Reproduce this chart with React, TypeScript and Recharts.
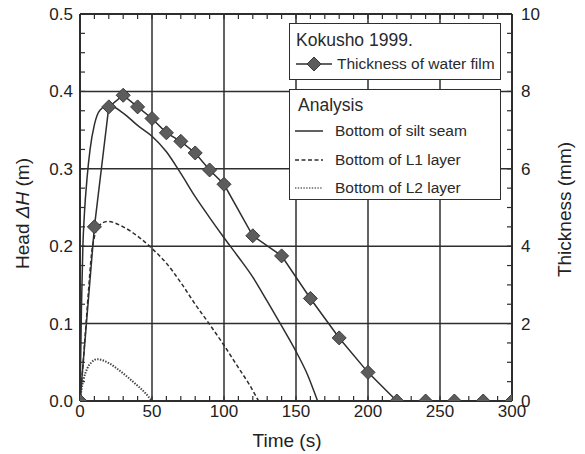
import React from 'react'
import { LineChart, Line, XAxis, YAxis, CartesianGrid, Legend } from 'recharts'

// ----- measured: water film thickness (mm), Kokusho 1999 -----
const filmTime = [0, 10, 20, 30, 40, 50, 60, 70, 80, 90, 100, 120, 140, 160, 180, 200, 220, 240, 260, 280, 300]
const filmThickness = [0, 4.5, 7.6, 7.9, 7.6, 7.3, 6.93, 6.71, 6.41, 5.97, 5.6, 4.27, 3.75, 2.65, 1.63, 0.74, 0, 0, 0, 0, 0]

// ----- analysis: head ΔH (m) -----
const siltTime = [0, 1, 2, 3, 5, 7, 10, 14, 20, 30, 40, 50, 60, 70, 80, 90, 100, 110, 120, 130, 140, 150, 158, 165]
const siltHead = [0, 0.12, 0.2, 0.24, 0.29, 0.325, 0.357, 0.376, 0.382, 0.372, 0.356, 0.342, 0.322, 0.294, 0.264, 0.237, 0.211, 0.186, 0.16, 0.129, 0.097, 0.064, 0.034, 0]

const l1Time = [0, 2, 4, 6, 8, 10, 13, 19, 30, 40, 50, 60, 70, 80, 90, 100, 110, 118, 124]
const l1Head = [0, 0.045, 0.095, 0.145, 0.19, 0.212, 0.226, 0.232, 0.225, 0.213, 0.197, 0.178, 0.153, 0.125, 0.099, 0.072, 0.043, 0.02, 0]

const l2Time = [0, 1, 2.5, 5, 8, 12, 20, 27, 33, 38, 45, 50]
const l2Head = [0, 0.014, 0.028, 0.042, 0.05, 0.054, 0.049, 0.04, 0.031, 0.023, 0.011, 0]

// ----- ticks -----
const xMajor = [0, 50, 100, 150, 200, 250, 300]
const leftMajor = [0, 0.1, 0.2, 0.3, 0.4, 0.5]
const xMinor = Array.from({ length: 31 }, (_, i) => i * 10)
const leftMinor = Array.from({ length: 21 }, (_, i) => +(i * 0.025).toFixed(3))
const rightMinor = Array.from({ length: 21 }, (_, i) => i * 0.5)

const filmName = 'Thickness of water film'
const analysisNames = ['Bottom of silt seam', 'Bottom of L1 layer', 'Bottom of L2 layer']

const filmData = filmTime.map((t, i) => ({ t, v: filmThickness[i] }))
const siltData = siltTime.map((t, i) => ({ t, v: siltHead[i] }))
const l1Data = l1Time.map((t, i) => ({ t, v: l1Head[i] }))
const l2Data = l2Time.map((t, i) => ({ t, v: l2Head[i] }))

const INK = '#2e2e2e'
const FONT = '"Liberation Sans", Arial, sans-serif'
const dashes = [undefined, '4 2.5', '1.4 1.4']

const Diamond = (props: any) => {
  const { cx, cy } = props
  if (cx == null || cy == null) return null
  const r = 7
  return (
    <polygon
      points={`${cx},${cy - r} ${cx + r},${cy} ${cx},${cy + r} ${cx - r},${cy}`}
      fill="#5c5c5c"
      stroke="#3a3a3a"
      strokeWidth={1}
    />
  )
}

const LegendBoxes = () => {
  const box: React.CSSProperties = {
    position: 'absolute', left: 0, border: `1.5px solid ${INK}`, background: '#fff',
    fontFamily: FONT, color: '#2a2a2a', boxSizing: 'border-box', width: 212,
  }
  const row = (h: number): React.CSSProperties => ({ height: h, display: 'flex', alignItems: 'center', fontSize: 15.5 })
  return (
    <div style={{ position: 'relative', width: 212, height: 180 }}>
      <div style={{ ...box, top: 0, height: 57, paddingTop: 4 }}>
        <div style={{ ...row(24), paddingLeft: 6, fontSize: 17.5 }}>Kokusho 1999.</div>
        <div style={row(24)}>
          <svg width={40} height={16} style={{ marginLeft: 4, marginRight: 3 }}>
            <line x1={2} y1={8} x2={38} y2={8} stroke={INK} strokeWidth={1.5} />
            <Diamond cx={20} cy={8} />
          </svg>
          {filmName}
        </div>
      </div>
      <div style={{ ...box, top: 66, height: 111, paddingTop: 3 }}>
        <div style={{ ...row(24), paddingLeft: 8, fontSize: 17.5 }}>Analysis</div>
        {analysisNames.map((n, i) => (
          <div key={n} style={row(28.5)}>
            <svg width={30} height={10} style={{ marginLeft: 4, marginRight: 11 }}>
              <line x1={1} y1={5} x2={29} y2={5} stroke={i === 2 ? '#666' : INK}
                strokeWidth={1.5} strokeDasharray={dashes[i]} />
            </svg>
            {n}
          </div>
        ))}
      </div>
    </div>
  )
}

const HeadLabel = (props: any) => {
  const vb = props.viewBox || { x: 0, y: 14, width: 80, height: 387 }
  const x = vb.x + 29
  const y = vb.y + vb.height / 2 + 6
  return (
    <text x={x} y={y} transform={`rotate(-90 ${x} ${y})`} textAnchor="middle"
      fontSize={19} fill="#222" fontFamily={FONT}>
      Head <tspan fontStyle="italic">ΔH</tspan> (m)
    </text>
  )
}

const ThickLabel = (props: any) => {
  const vb = props.viewBox || { x: 512, y: 14, width: 73, height: 387 }
  const x = vb.x + 59
  const y = vb.y + vb.height / 2 + 2
  return (
    <text x={x} y={y} transform={`rotate(-90 ${x} ${y})`} textAnchor="middle"
      fontSize={19} fill="#222" fontFamily={FONT}>
      Thickness (mm)
    </text>
  )
}

const TimeLabel = (props: any) => {
  const vb = props.viewBox || { x: 80, y: 401, width: 432, height: 53 }
  const x = vb.x + vb.width / 2 - 9
  const y = vb.y + 46
  return (
    <text x={x} y={y} textAnchor="middle" fontSize={19} fill="#222" fontFamily={FONT}>
      Time (s)
    </text>
  )
}

const tickStyle = { fontSize: 17, fill: '#222', fontFamily: FONT }
const noText = () => ''
const near = (a: number, b: number) => Math.abs(a - b) < 1e-6
const fmtX = (v: number) => (near(v % 50, 0) ? String(v) : '')
const fmtLeft = (v: number) => (near(v * 10, Math.round(v * 10)) ? v.toFixed(1) : '')
const fmtRight = (v: number) => (near(v % 2, 0) ? String(v) : '')
const minorLine = { stroke: INK, strokeWidth: 1.2 }
const frame = { stroke: INK, strokeWidth: 2 }

export default function App() {
  return (
    <div style={{ position: 'absolute', left: 0, top: 0, background: '#fff' }}>
      <LineChart width={585} height={454} margin={{ top: 13, right: 0, bottom: 0, left: 0 }}>
        <CartesianGrid xAxisId="x" yAxisId="left" stroke={INK} strokeWidth={1.5}
          verticalValues={xMajor} horizontalValues={leftMajor} />

        <XAxis xAxisId="x" type="number" dataKey="t" domain={[0, 300]} ticks={xMinor} interval={0}
          allowDataOverflow height={53} tickSize={-5} tickMargin={9} tickLine={minorLine}
          axisLine={frame} tick={tickStyle} tickFormatter={fmtX} label={<TimeLabel />} />
        <XAxis xAxisId="xt" type="number" dataKey="t" domain={[0, 300]} ticks={xMinor} interval={0}
          allowDataOverflow orientation="top" height={1} axisLine={frame} tickSize={-5}
          tickLine={minorLine} tickFormatter={noText} />

        <YAxis yAxisId="left" type="number" domain={[0, 0.5]} ticks={leftMinor} interval={0}
          allowDataOverflow width={80} tickSize={-5} tickMargin={12} tickLine={minorLine}
          axisLine={frame} tick={tickStyle} tickFormatter={fmtLeft} label={<HeadLabel />} />
        <YAxis yAxisId="right" type="number" orientation="right" domain={[0, 10]} ticks={rightMinor}
          interval={0} allowDataOverflow width={73} tickSize={-5} tickMargin={14} tickLine={minorLine}
          axisLine={frame} tick={{ ...tickStyle, textAnchor: 'start' }} tickFormatter={fmtRight}
          label={<ThickLabel />} />

        <Line xAxisId="x" yAxisId="left" data={siltData} dataKey="v" name={analysisNames[0]}
          type="monotone" stroke={INK} strokeWidth={1.5} dot={false} isAnimationActive={false} />
        <Line xAxisId="x" yAxisId="left" data={l1Data} dataKey="v" name={analysisNames[1]}
          type="monotone" stroke={INK} strokeWidth={1.5} strokeDasharray={dashes[1]}
          dot={false} isAnimationActive={false} />
        <Line xAxisId="x" yAxisId="left" data={l2Data} dataKey="v" name={analysisNames[2]}
          type="monotone" stroke="#444" strokeWidth={2} strokeDasharray={dashes[2]}
          dot={false} isAnimationActive={false} />
        {/* the film series sits on the top time axis (same 0-300 scale) */}
        <Line xAxisId="xt" yAxisId="right" data={filmData} dataKey="v" name={filmName}
          type="linear" stroke={INK} strokeWidth={1.5} dot={<Diamond />} isAnimationActive={false} />

        <Legend layout="vertical" verticalAlign="middle" align="center" content={<LegendBoxes />}
          wrapperStyle={{ position: 'absolute', left: 289, top: 23, width: 212, height: 180 }} />
      </LineChart>
    </div>
  )
}
